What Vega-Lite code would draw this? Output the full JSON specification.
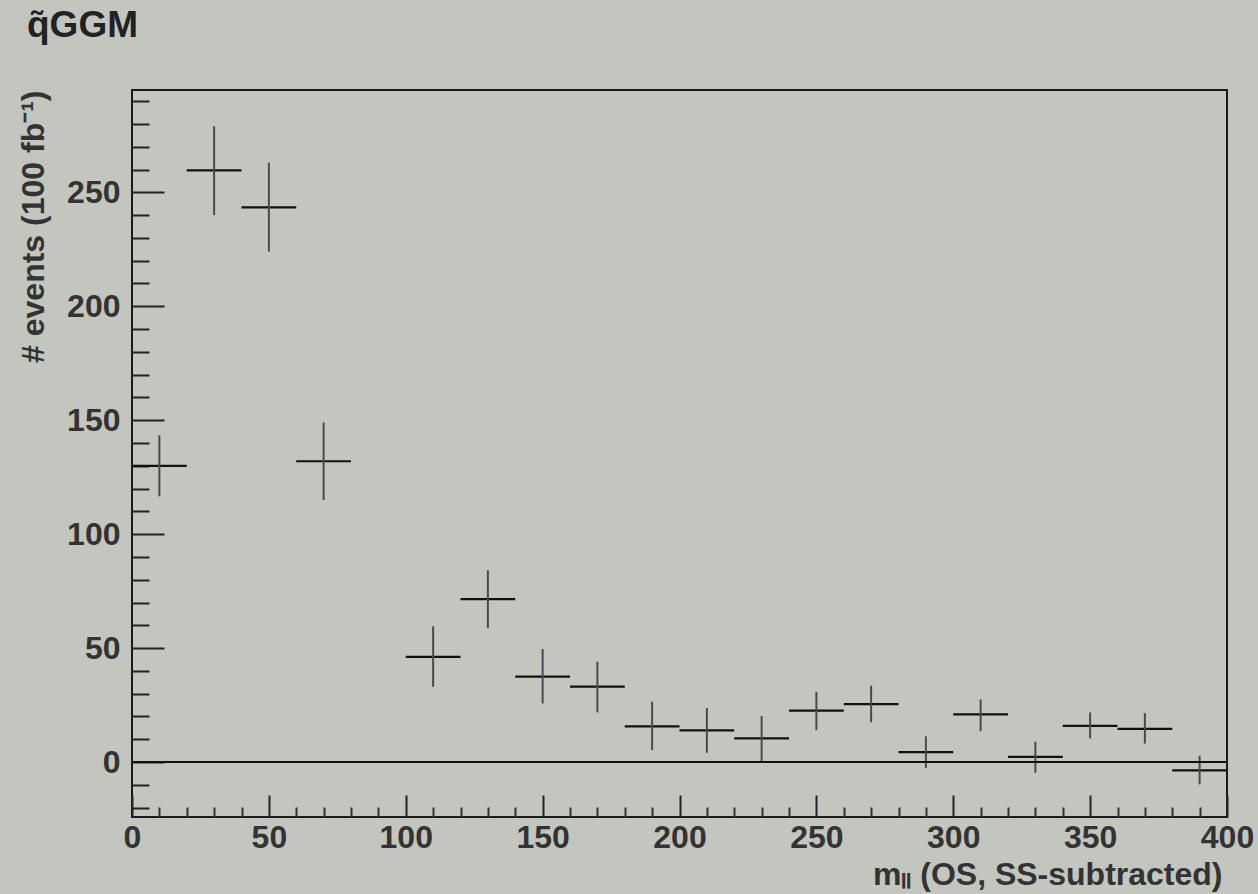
{
  "$schema": "https://vega.github.io/schema/vega-lite/v6.json",
  "width": 1095,
  "height": 727,
  "autosize": "none",
  "padding": {"left": 132, "top": 90, "right": 31, "bottom": 77},
  "background": "#c2c6bf",
  "config": {
    "view": {"stroke": "#1a1a1a", "strokeWidth": 2},
    "font": "Liberation Sans"
  },
  "title": {
    "text": "q̃GGM",
    "anchor": "start",
    "frame": "group",
    "dx": -105,
    "offset": 45,
    "fontSize": 37,
    "font": "Liberation Sans",
    "fontWeight": "bold",
    "color": "#222"
  },
  "data": {
    "values": [
      {"mid": 10, "lo": 0, "hi": 20, "n": 130, "nlo": 116.6, "nhi": 143.4},
      {"mid": 30, "lo": 20, "hi": 40, "n": 259.6, "nlo": 240, "nhi": 279},
      {"mid": 50, "lo": 40, "hi": 60, "n": 243.4, "nlo": 224, "nhi": 263},
      {"mid": 70, "lo": 60, "hi": 80, "n": 132, "nlo": 115, "nhi": 149},
      {"mid": 110, "lo": 100, "hi": 120, "n": 46.2, "nlo": 33, "nhi": 59.6},
      {"mid": 130, "lo": 120, "hi": 140, "n": 71.5, "nlo": 58.7, "nhi": 84.2},
      {"mid": 150, "lo": 140, "hi": 160, "n": 37.5, "nlo": 25.7, "nhi": 49.6},
      {"mid": 170, "lo": 160, "hi": 180, "n": 33.1, "nlo": 21.8, "nhi": 44},
      {"mid": 190, "lo": 180, "hi": 200, "n": 15.7, "nlo": 5.3, "nhi": 26.5},
      {"mid": 210, "lo": 200, "hi": 220, "n": 13.9, "nlo": 4.1, "nhi": 23.7},
      {"mid": 230, "lo": 220, "hi": 240, "n": 10.4, "nlo": 0.1, "nhi": 20.2},
      {"mid": 250, "lo": 240, "hi": 260, "n": 22.6, "nlo": 14, "nhi": 30.8},
      {"mid": 270, "lo": 260, "hi": 280, "n": 25.4, "nlo": 17.5, "nhi": 33.5},
      {"mid": 290, "lo": 280, "hi": 300, "n": 4.4, "nlo": -2.6, "nhi": 11.3},
      {"mid": 310, "lo": 300, "hi": 320, "n": 20.9, "nlo": 13.6, "nhi": 27.5},
      {"mid": 330, "lo": 320, "hi": 340, "n": 2.3, "nlo": -4.7, "nhi": 8.9},
      {"mid": 350, "lo": 340, "hi": 360, "n": 15.9, "nlo": 10.4, "nhi": 21.8},
      {"mid": 370, "lo": 360, "hi": 380, "n": 14.6, "nlo": 8.1, "nhi": 21.5},
      {"mid": 390, "lo": 380, "hi": 400, "n": -3.6, "nlo": -9.8, "nhi": 2.8}
    ]
  },
  "layer": [
    {
      "mark": {"type": "rule", "color": "#111", "strokeWidth": 2.2},
      "encoding": {
        "x": {
          "field": "lo",
          "type": "quantitative",
          "scale": {"domain": [0, 400], "nice": false, "zero": false},
          "axis": {
            "values": [0, 50, 100, 150, 200, 250, 300, 350, 400],
            "tickSize": -22,
            "tickWidth": 2,
            "tickColor": "#222",
            "domain": false,
            "grid": false,
            "labelFlush": false,
            "labelOverlap": false,
            "labelFont": "Liberation Sans",
            "labelFontWeight": "bold",
            "labelFontSize": 32,
            "labelColor": "#333",
            "labelPadding": 27,
            "title": "mₗₗ (OS, SS-subtracted)",
            "titleFont": "Liberation Sans",
            "titleFontWeight": "bold",
            "titleFontSize": 32,
            "titleColor": "#333",
            "titleX": 1090,
            "titleY": 67,
            "titleAlign": "right",
            "titleBaseline": "alphabetic"
          }
        },
        "x2": {"field": "hi"},
        "y": {
          "field": "n",
          "type": "quantitative",
          "scale": {"domain": [-24.1, 294.9], "nice": false, "zero": false},
          "axis": {
            "values": [0, 50, 100, 150, 200, 250],
            "tickSize": -32,
            "tickWidth": 2,
            "tickColor": "#222",
            "domain": false,
            "grid": false,
            "labelOverlap": false,
            "labelFont": "Liberation Sans",
            "labelFontWeight": "bold",
            "labelFontSize": 32,
            "labelColor": "#333",
            "labelPadding": 44,
            "title": "# events (100 fb⁻¹)",
            "titleFont": "Liberation Sans",
            "titleFontWeight": "bold",
            "titleFontSize": 32,
            "titleColor": "#333",
            "titleX": -82,
            "titleY": 0,
            "titleAngle": -90,
            "titleAlign": "right",
            "titleBaseline": "bottom"
          }
        }
      }
    },
    {
      "mark": {"type": "rule", "color": "#4a4a4a", "strokeWidth": 2},
      "encoding": {
        "x": {
          "field": "mid",
          "type": "quantitative",
          "scale": {"domain": [0, 400], "nice": false, "zero": false},
          "axis": {
            "orient": "bottom",
            "values": [10, 20, 30, 40, 60, 70, 80, 90, 110, 120, 130, 140, 160, 170, 180, 190, 210, 220, 230, 240, 260, 270, 280, 290, 310, 320, 330, 340, 360, 370, 380, 390],
            "tickSize": -10,
            "tickWidth": 2,
            "tickColor": "#333",
            "domain": false,
            "grid": false,
            "labels": false,
            "title": null
          }
        },
        "y": {
          "field": "nlo",
          "type": "quantitative",
          "scale": {"domain": [-24.1, 294.9], "nice": false, "zero": false},
          "axis": {
            "orient": "left",
            "values": [-20, -10, 10, 20, 30, 40, 60, 70, 80, 90, 110, 120, 130, 140, 160, 170, 180, 190, 210, 220, 230, 240, 260, 270, 280, 290],
            "tickSize": -17,
            "tickWidth": 2,
            "tickColor": "#222",
            "domain": false,
            "grid": false,
            "labels": false,
            "title": null
          }
        },
        "y2": {"field": "nhi"}
      }
    },
    {
      "mark": {"type": "rule", "color": "#111", "strokeWidth": 2},
      "encoding": {
        "y": {"datum": 0, "type": "quantitative", "axis": null}
      }
    }
  ],
  "resolve": {"axis": {"x": "independent", "y": "independent"}}
}
